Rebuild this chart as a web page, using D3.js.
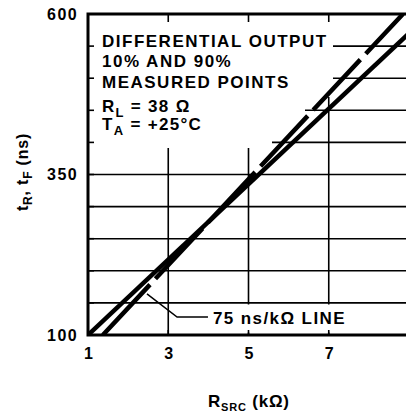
<!DOCTYPE html>
<html>
<head>
<meta charset="utf-8">
<script src="https://cdn.jsdelivr.net/npm/d3@7"></script>
<style>
  html, body { margin: 0; padding: 0; background: #fff; }
  svg { display: block; }
  text { font-family: "Liberation Sans", Arial, Helvetica, sans-serif; font-weight: bold; fill: #000; }
</style>
</head>
<body>
<svg id="chart" width="406" height="416"></svg>
<script>
// ---- data ----
const xTicks = [1, 3, 5, 7];
const yTickLabels = [100, 350, 600];
const yGrid = [150, 200, 250, 300, 350, 400, 450, 500, 550];
const xGrid = [3, 5, 7];
// tR, tF measured line (ns vs kΩ)
const rsrcMeasured = [1, 9];
const tMeasured = [100, 570];
// 75 ns/kΩ reference line
const rsrcRef = [1.37, 8.85];
const tRef = [100, 600];
// leader from reference line to its label
const leaderX = [2.47, 3.22, 3.99];
const leaderY = [164, 128, 128];
const noteLines = ["DIFFERENTIAL OUTPUT", "10% AND 90%", "MEASURED POINTS"];

const svg = d3.select("#chart");
const x = d3.scaleLinear().domain([1, 9]).range([88, 409]);
const y = d3.scaleLinear().domain([100, 600]).range([335, 14]);

// clip
svg.append("defs").append("clipPath").attr("id", "plot")
  .append("rect").attr("x", x(1)).attr("y", y(600))
  .attr("width", x(9) - x(1)).attr("height", y(100) - y(600));

// grid
const g = svg.append("g");
g.selectAll(".hg").data(yGrid).join("line")
  .attr("x1", x(1)).attr("x2", x(9))
  .attr("y1", d => y(d)).attr("y2", d => y(d))
  .attr("stroke", "#000").attr("stroke-width", 1.6);
g.selectAll(".vg").data(xGrid).join("line")
  .attr("x1", d => x(d)).attr("x2", d => x(d))
  .attr("y1", y(600)).attr("y2", y(100))
  .attr("stroke", "#000").attr("stroke-width", 1.6);

// white background behind the note block
const boxPts = [[88.5, 15], [333, 15], [333, 97], [305, 97], [305, 125], [272, 125], [272, 148], [88.5, 148]];
svg.append("path").attr("d", "M" + boxPts.map(p => p.join(",")).join("L") + "Z").attr("fill", "#fff");
// white background behind the line label
svg.append("rect").attr("x", 180).attr("y", 304.5).attr("width", 170).attr("height", 28).attr("fill", "#fff");

// inner ticks
svg.selectAll(".lt").data(yGrid).join("line")
  .attr("x1", x(1)).attr("x2", x(1) + 6)
  .attr("y1", d => y(d)).attr("y2", d => y(d))
  .attr("stroke", "#000").attr("stroke-width", 1.6);
svg.selectAll(".tt").data(xGrid).join("line")
  .attr("x1", d => x(d)).attr("x2", d => x(d))
  .attr("y1", y(600)).attr("y2", y(600) + 8)
  .attr("stroke", "#000").attr("stroke-width", 1.6);
svg.selectAll(".bt").data(xGrid).join("line")
  .attr("x1", d => x(d)).attr("x2", d => x(d))
  .attr("y1", y(100)).attr("y2", y(100) - 5)
  .attr("stroke", "#000").attr("stroke-width", 1.6);

// frame
svg.append("rect").attr("x", x(1)).attr("y", y(600))
  .attr("width", x(9) - x(1)).attr("height", y(100) - y(600))
  .attr("fill", "none").attr("stroke", "#000").attr("stroke-width", 3);

// lines
const line = d3.line().x(d => x(d[0])).y(d => y(d[1]));
const lg = svg.append("g").attr("clip-path", "url(#plot)");
lg.append("path").datum(rsrcMeasured.map((r, i) => [r, tMeasured[i]]))
  .attr("d", line).attr("fill", "none").attr("stroke", "#000").attr("stroke-width", 4.5);
lg.append("path").datum(rsrcRef.map((r, i) => [r, tRef[i]]))
  .attr("d", line).attr("fill", "none").attr("stroke", "#000").attr("stroke-width", 4.5)
  .attr("stroke-dasharray", "69,8");

// leader
svg.append("path").datum(leaderX.map((r, i) => [r, leaderY[i]]))
  .attr("d", line).attr("fill", "none").attr("stroke", "#000").attr("stroke-width", 1.5);

// axes labels
const xa = svg.append("g").attr("transform", `translate(0,${y(100)})`)
  .call(d3.axisBottom(x).tickValues(xTicks).tickSize(0).tickPadding(13).tickFormat(d3.format("d")));
xa.select(".domain").remove();
xa.selectAll("text").style("font-size", "16px").style("font-family", null);

const ya = svg.append("g").attr("transform", `translate(${x(1)},0)`)
  .call(d3.axisLeft(y).tickValues(yTickLabels).tickSize(0).tickPadding(10).tickFormat(d3.format("d")));
ya.select(".domain").remove();
ya.selectAll("text").style("font-size", "16px").style("letter-spacing", "1.4px").style("font-family", null);

// note block
const nb = svg.append("g");
nb.selectAll(".nl").data(noteLines).join("text")
  .attr("x", 102).attr("y", (d, i) => [47, 67, 88][i])
  .style("font-size", "17px").style("letter-spacing", "1.5px").text(d => d);
const r4 = nb.append("text").attr("x", 102).attr("y", 112).style("font-size", "17px").style("letter-spacing", "1.3px");
r4.append("tspan").text("R");
r4.append("tspan").attr("dy", 5).style("font-size", "13px").text("L");
r4.append("tspan").attr("dy", -5).text(" = 38 Ω");
const r5 = nb.append("text").attr("x", 102).attr("y", 130).style("font-size", "17px").style("letter-spacing", "1.3px");
r5.append("tspan").text("T");
r5.append("tspan").attr("dy", 5).style("font-size", "13px").text("A");
r5.append("tspan").attr("dy", -5).text(" = +25°C");

// line label
svg.append("text").attr("x", 213).attr("y", 324)
  .style("font-size", "17px").style("letter-spacing", "1.4px").text("75 ns/kΩ LINE");

// x title
const xt = svg.append("text").attr("x", 208).attr("y", 407).style("font-size", "17px").style("letter-spacing", "0.8px");
xt.append("tspan").text("R");
xt.append("tspan").attr("dy", 4).style("font-size", "11px").text("SRC");
xt.append("tspan").attr("dy", -4).text("  (kΩ)");

// y title
const yt = svg.append("text").attr("transform", "translate(28,172) rotate(-90)")
  .attr("text-anchor", "middle").style("font-size", "16px").style("letter-spacing", "0.8px");
yt.append("tspan").text("t");
yt.append("tspan").attr("dy", 4).style("font-size", "12px").text("R");
yt.append("tspan").attr("dy", -4).text(", t");
yt.append("tspan").attr("dy", 4).style("font-size", "12px").text("F");
yt.append("tspan").attr("dy", -4).text(" (ns)");
</script>
</body>
</html>
